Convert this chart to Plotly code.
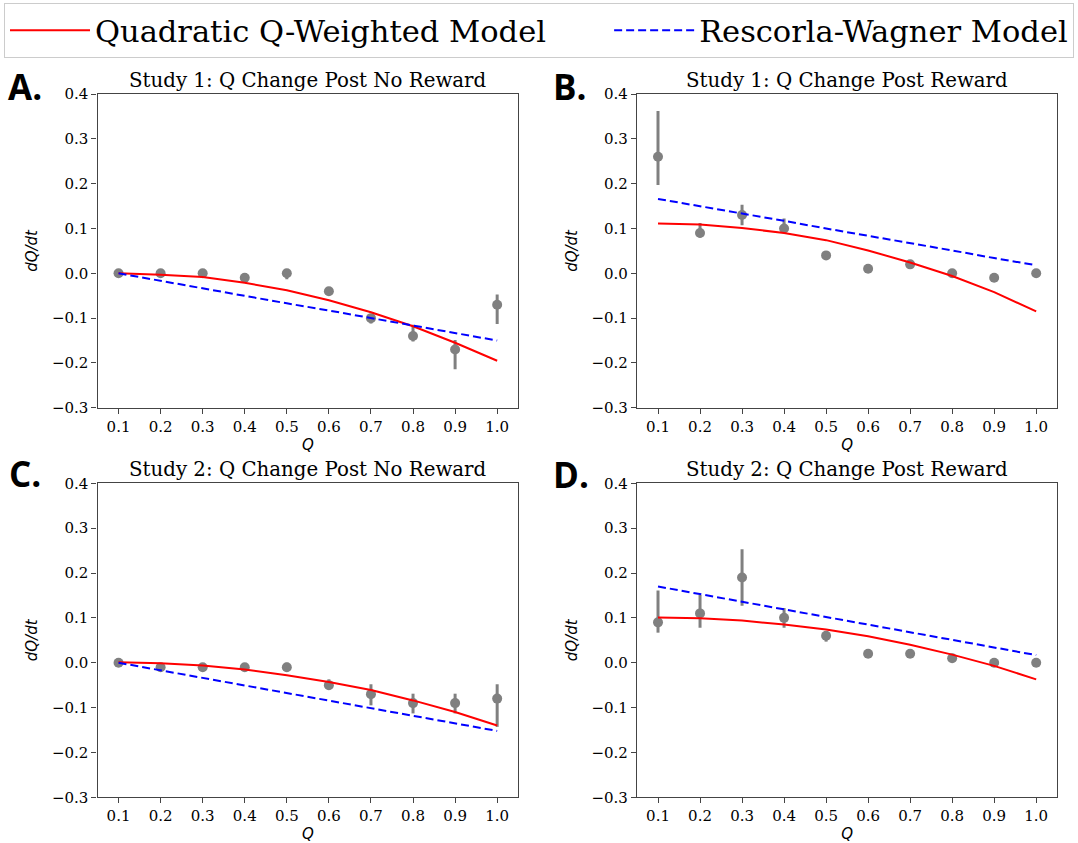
import plotly.graph_objects as go

W, H = 1078, 843

q_values = [0.1, 0.2, 0.3, 0.4, 0.5, 0.6, 0.7, 0.8, 0.9, 1.0]
x_tick_vals = [0.1, 0.2, 0.3, 0.4, 0.5, 0.6, 0.7, 0.8, 0.9, 1.0]
y_tick_vals = [-0.3, -0.2, -0.1, 0.0, 0.1, 0.2, 0.3, 0.4]

titles = [
    "Study 1: Q Change Post No Reward",
    "Study 1: Q Change Post Reward",
    "Study 2: Q Change Post No Reward",
    "Study 2: Q Change Post Reward",
]
panel_letters = ["A.", "B.", "C.", "D."]
legend_names = ["Quadratic Q-Weighted Model", "Rescorla-Wagner Model"]

# Panel A: Study 1, post no reward
a_obs = [0.0, 0.0, 0.0, -0.01, 0.0, -0.04, -0.10, -0.14, -0.17, -0.07]
a_err_plus = [0.003, 0.003, 0.003, 0.005, 0.003, 0.005, 0.006, 0.025, 0.021, 0.023]
a_err_minus = [0.003, 0.003, 0.003, 0.005, 0.013, 0.005, 0.012, 0.012, 0.044, 0.043]
a_quad = [0.0, -0.003, -0.008, -0.021, -0.038, -0.060, -0.087, -0.118, -0.155, -0.195]
a_rw = [0.0, -0.017, -0.033, -0.050, -0.067, -0.083, -0.100, -0.117, -0.133, -0.150]

# Panel B: Study 1, post reward
b_obs = [0.26, 0.09, 0.13, 0.10, 0.04, 0.01, 0.02, 0.0, -0.01, 0.0]
b_err_plus = [0.102, 0.022, 0.023, 0.022, 0.003, 0.003, 0.005, 0.003, 0.003, 0.003]
b_err_minus = [0.063, 0.010, 0.023, 0.010, 0.008, 0.006, 0.008, 0.003, 0.008, 0.003]
b_quad = [0.111, 0.109, 0.101, 0.090, 0.074, 0.051, 0.024, -0.006, -0.042, -0.085]
b_rw = [0.166, 0.150, 0.133, 0.117, 0.100, 0.084, 0.067, 0.051, 0.034, 0.018]

# Panel C: Study 2, post no reward
c_obs = [0.0, -0.01, -0.01, -0.01, -0.01, -0.05, -0.07, -0.09, -0.09, -0.08]
c_err_plus = [0.003, 0.005, 0.005, 0.005, 0.010, 0.013, 0.022, 0.021, 0.021, 0.032]
c_err_minus = [0.003, 0.005, 0.005, 0.005, 0.010, 0.010, 0.025, 0.023, 0.023, 0.063]
c_quad = [0.001, -0.001, -0.006, -0.015, -0.028, -0.043, -0.061, -0.084, -0.110, -0.140]
c_rw = [0.0, -0.017, -0.034, -0.051, -0.068, -0.085, -0.101, -0.118, -0.135, -0.152]

# Panel D: Study 2, post reward
d_obs = [0.09, 0.11, 0.19, 0.10, 0.06, 0.02, 0.02, 0.01, 0.0, 0.0]
d_err_plus = [0.071, 0.041, 0.063, 0.022, 0.005, 0.003, 0.003, 0.003, 0.003, 0.003]
d_err_minus = [0.023, 0.032, 0.063, 0.022, 0.013, 0.003, 0.003, 0.003, 0.003, 0.003]
d_quad = [0.101, 0.099, 0.094, 0.085, 0.074, 0.059, 0.040, 0.018, -0.007, -0.037]
d_rw = [0.170, 0.153, 0.136, 0.119, 0.102, 0.085, 0.068, 0.051, 0.034, 0.017]

panels = [
    (a_obs, a_err_plus, a_err_minus, a_quad, a_rw),
    (b_obs, b_err_plus, b_err_minus, b_quad, b_rw),
    (c_obs, c_err_plus, c_err_minus, c_quad, c_rw),
    (d_obs, d_err_plus, d_err_minus, d_quad, d_rw),
]

# panel geometry in pixels (left, right, top, bottom)
boxes = [
    (97.5, 518.2, 94.0, 407.8),
    (637.0, 1057.2, 94.0, 407.8),
    (97.5, 518.2, 483.3, 797.3),
    (637.0, 1057.2, 483.3, 797.3),
]
letter_pos = [(6, 86), (551, 86), (7, 474), (551, 475)]

GRAY = "#808080"
RED = "#ff0000"
BLUE = "#0000ff"
AXC = "#444444"
SERIF = "DejaVu Serif"
NBSP = "\u00a0"

fig = go.Figure()

for i, (obs, ep, em, quad, rw) in enumerate(panels):
    xa = "x" if i == 0 else f"x{i+1}"
    ya = "y" if i == 0 else f"y{i+1}"
    fig.add_trace(go.Scatter(
        x=q_values, y=obs, mode="markers", xaxis=xa, yaxis=ya,
        marker=dict(color=GRAY, size=10),
        error_y=dict(type="data", array=ep, arrayminus=em, symmetric=False,
                     color=GRAY, thickness=3, width=0),
        showlegend=False, hoverinfo="x+y",
    ))
    fig.add_trace(go.Scatter(
        x=q_values, y=quad, mode="lines", xaxis=xa, yaxis=ya,
        line=dict(color=RED, width=2), name=legend_names[0] + NBSP * 6,
        showlegend=(i == 0),
    ))
    fig.add_trace(go.Scatter(
        x=q_values, y=rw, mode="lines", xaxis=xa, yaxis=ya,
        line=dict(color=BLUE, width=2, dash="8px,4px"), name=legend_names[1],
        showlegend=(i == 0),
    ))

layout = dict(
    width=W, height=H,
    margin=dict(l=0, r=0, t=0, b=0, autoexpand=False),
    paper_bgcolor="white", plot_bgcolor="white",
    font=dict(family=SERIF, color="#000000"),
    showlegend=True,
    legend=dict(
        orientation="h", x=4 / W, xanchor="left", y=1 - 3 / H, yanchor="top",
        bordercolor="#cccccc", borderwidth=1, bgcolor="white",
        font=dict(family=SERIF, size=30.5, color="#000000"),
        itemwidth=80, traceorder="normal",
    ),
)

annotations = []
for i, (l, r, t, b) in enumerate(boxes):
    suf = "" if i == 0 else str(i + 1)
    xd = [l / W, r / W]
    yd = [1 - b / H, 1 - t / H]
    layout["xaxis" + suf] = dict(
        domain=xd, range=[0.05, 1.05], anchor="y" + suf,
        tickvals=x_tick_vals, tickformat=".1f",
        ticks="outside", ticklen=5, tickwidth=1, tickcolor=AXC,
        showline=True, linecolor=AXC, linewidth=1.3, mirror=True,
        showgrid=False, zeroline=False,
        tickfont=dict(family=SERIF, size=15, color="#000000"),
        title=dict(text="<i>Q</i>", font=dict(family="DejaVu Sans", size=15, color="#000000"), standoff=4),
    )
    layout["yaxis" + suf] = dict(
        domain=yd, range=[-0.3, 0.4], anchor="x" + suf,
        tickvals=y_tick_vals, tickformat=".1f",
        ticks="outside", ticklen=5, tickwidth=1, tickcolor=AXC,
        showline=True, linecolor=AXC, linewidth=1.3, mirror=True,
        showgrid=False, zeroline=False,
        tickfont=dict(family=SERIF, size=15, color="#000000"),
        title=dict(text="<i>dQ/dt</i>", font=dict(family="DejaVu Sans", size=15, color="#000000"), standoff=10),
    )
    annotations.append(dict(
        text=titles[i], xref="paper", yref="paper",
        x=(l + r) / 2 / W, y=1 - t / H, xanchor="center", yanchor="bottom",
        yshift=0, showarrow=False,
        font=dict(family=SERIF, size=19.8, color="#000000"),
    ))
    lx, ly = letter_pos[i]
    annotations.append(dict(
        text="<b>" + panel_letters[i] + "</b>", xref="paper", yref="paper",
        x=lx / W, y=1 - ly / H, xanchor="left", yanchor="middle",
        showarrow=False,
        font=dict(family="Open Sans", size=35, color="#000000"),
    ))

layout["annotations"] = annotations
fig.update_layout(**layout)

fig.write_html("out.html")
